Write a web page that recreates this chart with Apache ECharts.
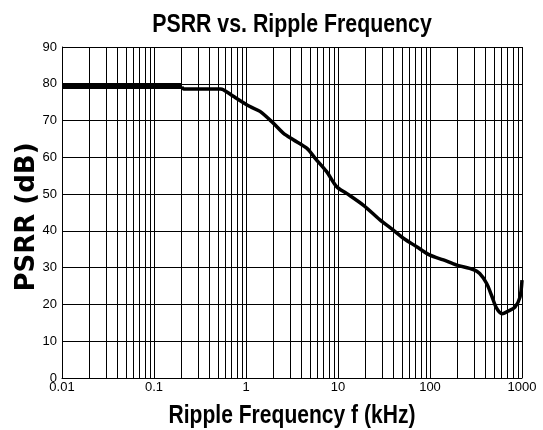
<!DOCTYPE html>
<html>
<head>
<meta charset="utf-8">
<script src="https://cdn.jsdelivr.net/npm/echarts@6/dist/echarts.min.js"></script>
<style>html,body{margin:0;padding:0;background:#fff}#c{width:543px;height:430px}</style>
</head>
<body>
<div id="c"></div>
<script>
var titleText = 'PSRR vs. Ripple Frequency';
var xName = 'Ripple Frequency f (kHz)';
var yName = 'PSRR (dB)';
var xTickLabels = ['0.01', '0.1', '1', '10', '100', '1000'];

var flatFreq = [0.01, 0.2];
var flatPsrr = [79.4, 79.4];

var curveFreq = [0.2, 0.21, 0.53, 0.567, 0.728, 1.105, 1.42, 1.98, 2.54, 3.27, 4.57, 5.62, 7.53, 9.68, 12.4, 18.8, 28.6, 39.9, 51.3, 71.6, 100, 140, 195, 295, 347, 413, 466, 531, 607, 709, 839, 951, 1000];
var curvePsrr = [79.2, 78.6, 78.6, 78.4, 76.6, 73.8, 72.5, 69.3, 66.6, 64.8, 62.5, 59.8, 56.1, 52.0, 50.2, 47.0, 43.0, 40.2, 38.0, 35.7, 33.4, 32.1, 30.7, 29.5, 28.4, 25.7, 22.5, 18.9, 17.5, 18.2, 19.3, 22.0, 26.6];

var minorX = [];
[0.01, 0.1, 1, 10, 100].forEach(function (d) {
  for (var m = 2; m <= 9; m++) minorX.push({ xAxis: +(d * m).toPrecision(3) });
});

function pairs(xs, ys) { return xs.map(function (x, i) { return [x, ys[i]]; }); }

var sans = "'Liberation Sans', Arial, sans-serif";

var chart = echarts.init(document.getElementById('c'), null, { renderer: 'canvas' });
chart.setOption({
  animation: false,
  backgroundColor: '#fff',
  graphic: [
    { type: 'text', x: 292, y: 25, scaleX: 0.82, silent: true,
      style: { text: titleText, font: 'bold 26px ' + sans, fill: '#000', align: 'center', verticalAlign: 'middle' } },
    { type: 'text', x: 292, y: 416, scaleX: 0.81, silent: true,
      style: { text: xName, font: 'bold 26px ' + sans, fill: '#000', align: 'center', verticalAlign: 'middle' } },
    { type: 'text', x: 27, y: 217, rotation: Math.PI / 2, silent: true,
      style: { text: yName, font: "bold 26px 'DejaVu Sans', sans-serif", fill: '#000', align: 'center', verticalAlign: 'middle' } }
  ],
  grid: { left: 62, right: 21, top: 47, bottom: 52 },
  xAxis: {
    type: 'log', logBase: 10, min: 0.01, max: 1000,
    axisLine: { show: true, lineStyle: { color: '#000', width: 1 } },
    axisTick: { show: false },
    axisLabel: { color: '#000', fontSize: 13, fontFamily: sans, margin: 3,
      formatter: function (v) { var s = String(+v.toPrecision(3)); return xTickLabels.indexOf(s) >= 0 ? s : ''; } },
    splitLine: { show: true, lineStyle: { color: '#000', width: 1 } }
  },
  yAxis: {
    type: 'value', min: 0, max: 90, interval: 10,
    axisLine: { show: true, lineStyle: { color: '#000', width: 1 } },
    axisTick: { show: false },
    axisLabel: { color: '#000', fontSize: 13, fontFamily: sans, margin: 5 },
    splitLine: { show: true, lineStyle: { color: '#000', width: 1 } }
  },
  series: [
    {
      type: 'line', data: [], silent: true,
      markLine: { silent: true, symbol: 'none', animation: false, label: { show: false },
        lineStyle: { color: '#000', width: 1, type: 'solid' }, data: minorX }
    },
    {
      type: 'line', data: pairs(flatFreq, flatPsrr), showSymbol: false, symbol: 'none',
      lineStyle: { color: '#000', width: 6 }, z: 5
    },
    {
      type: 'line', data: pairs(curveFreq, curvePsrr), showSymbol: false, symbol: 'none', smooth: 0.3,
      lineStyle: { color: '#000', width: 3.5 }, z: 5
    }
  ]
});
</script>
</body>
</html>
